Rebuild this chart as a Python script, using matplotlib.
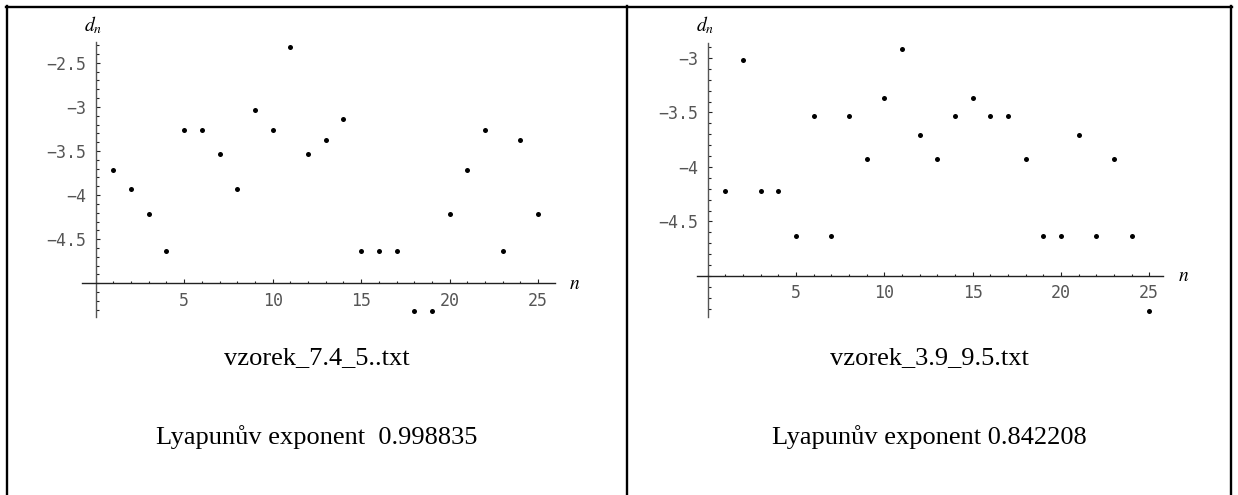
import matplotlib.pyplot as plt
from matplotlib.lines import Line2D
from matplotlib.ticker import MultipleLocator

plt.rcParams['mathtext.fontset'] = 'stix'

W, H = 1238, 495

# data
n = list(range(1, 26))
d_left = [-3.71, -3.93, -4.22, -4.63, -3.26, -3.26, -3.53, -3.93, -3.03, -3.26,
          -2.32, -3.53, -3.38, -3.14, -4.63, -4.63, -4.63, -5.32, -5.32, -4.22,
          -3.71, -3.26, -4.63, -3.38, -4.22]
d_right = [-4.22, -3.02, -4.22, -4.22, -4.63, -3.53, -4.63, -3.53, -3.93, -3.37,
           -2.92, -3.71, -3.93, -3.53, -3.37, -3.53, -3.53, -3.93, -4.63, -4.63,
           -3.71, -4.63, -3.93, -4.63, -5.32]
files = ['vzorek_7.4_5..txt', 'vzorek_3.9_9.5.txt']
lyap = ['Lyapunův exponent  0.998835', 'Lyapunův exponent 0.842208']
xticks = [5, 10, 15, 20, 25]
yticks_left = [-4.5, -4, -3.5, -3, -2.5]
yticks_right = [-4.5, -4, -3.5, -3]


def fx(p):
    return p / W


def fy(p):
    return 1 - p / H


fig = plt.figure(figsize=(W / 100, H / 100), dpi=100)

# (left px, top px, right px, bottom px, xlim, ylim, data, yticks, cell centre)
panels = [
    (82.4, 41.7, 555.0, 316.7, (-0.75, 25.95), (-5.38, -2.26), d_left, yticks_left, 316.8),
    (696.8, 42.7, 1163.3, 317.3, (-0.62, 25.8), (-5.38, -2.86), d_right, yticks_right, 929.0),
]

for i, (l, t, r, b, xl, yl, d, yt, cx) in enumerate(panels):
    ax = fig.add_axes([fx(l), fy(b), (r - l) / W, (b - t) / H])
    ax.plot(n, d, 'o', color='black', ms=3.6, mew=0)
    ax.set_xlim(*xl)
    ax.set_ylim(*yl)
    ax.patch.set_alpha(0)
    for s in ['top', 'right']:
        ax.spines[s].set_visible(False)
    ax.spines['left'].set_position(('data', 0))
    ax.spines['bottom'].set_position(('data', -5))
    ax.spines['left'].set_color('#555555')
    ax.spines['bottom'].set_color('#222222')
    ax.spines['left'].set_linewidth(1.0)
    ax.spines['bottom'].set_linewidth(1.0)
    ax.set_xticks(xticks)
    ax.set_xticklabels([str(v) for v in xticks])
    ax.set_yticks(yt)
    ax.set_yticklabels([f'{v:g}'.replace('-', '\u2212') for v in yt])
    ax.xaxis.set_minor_locator(MultipleLocator(1))
    ax.yaxis.set_minor_locator(MultipleLocator(0.1))
    ax.tick_params(which='both', direction='in', color='#222222', width=0.8)
    ax.tick_params(which='major', length=3.0)
    ax.tick_params(which='minor', length=1.8)
    ax.tick_params(axis='x', pad=6)
    ax.tick_params(axis='y', pad=7)
    for lab in ax.get_xticklabels() + ax.get_yticklabels():
        lab.set_family('DejaVu Sans Mono')
        lab.set_fontsize(12)
        lab.set_color('#555555')

    # axis labels
    x0 = l + (0 - xl[0]) / (xl[1] - xl[0]) * (r - l)
    y5 = t + (yl[1] + 5) / (yl[1] - yl[0]) * (b - t)
    fig.text(fx(x0 - 3), fy(25), r'$d_n$', ha='center', va='center', fontsize=14)
    fig.text(fx(r + 20), fy(y5), r'$n$', ha='center', va='center', fontsize=14)

    fig.text(fx(cx), fy(358), files[i], ha='center', va='center',
             family='Liberation Serif', fontsize=19)
    fig.text(fx(cx), fy(437), lyap[i], ha='center', va='center',
             family='Liberation Serif', fontsize=19)

# table borders
lw = 1.7
fig.add_artist(Line2D([fx(5.7), fx(1232.3)], [fy(6.8), fy(6.8)], transform=fig.transFigure, lw=lw, color='black'))
for xp in [6.8, 626.8, 1231.2]:
    fig.add_artist(Line2D([fx(xp), fx(xp)], [fy(5.7), fy(495)], transform=fig.transFigure, lw=lw, color='black'))

fig.savefig('out.png', dpi=100)
